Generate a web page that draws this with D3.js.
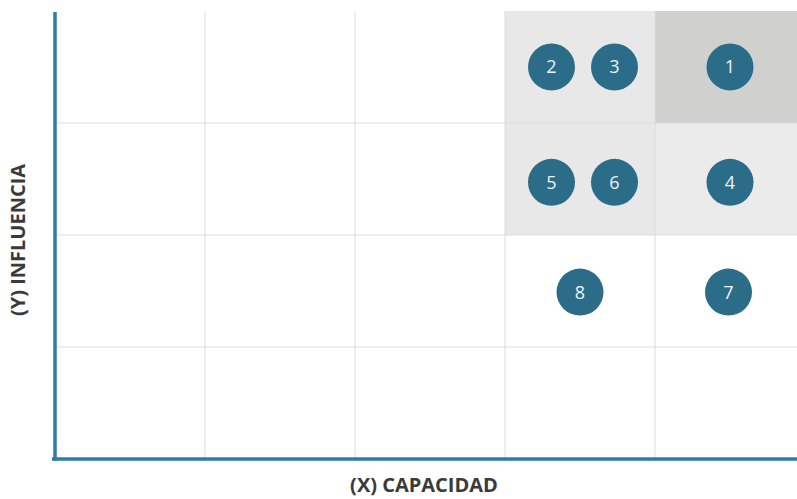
<!DOCTYPE html>
<html>
<head>
<meta charset="utf-8">
<script src="https://cdn.jsdelivr.net/npm/d3@7"></script>
<style>
  body { margin: 0; background: #fff; }
  #graf { width: 797px; height: 499px; }
</style>
</head>
<body>
<div id="graf"></div>
<script>
// I. Datos
puntos   = ['1', '2', '3', '4', '5', '6', '7', '8']
capacidad = [4.5, 3.31, 3.73, 4.5, 3.31, 3.73, 4.49, 3.5]
influencia = [3.5, 3.5, 3.5, 2.47, 2.47, 2.47, 1.49, 1.49]

// celdas sombreadas: columna, fila (desde abajo), tono
celdaCol  = [3, 4, 3, 4]
celdaFila = [3, 3, 2, 2]
celdaTono = ['#e8e8e8', '#d0d0cf', '#e8e8e8', '#ebebeb']

columnas = [0, 1, 2, 3, 4, 5]
filas    = [0, 1, 2, 3, 4]

// II. Configuración
ancho_total = 797
alto_total = 499
margins = { top: 11, left: 55, right: -8, bottom: 40 }
ancho = ancho_total - margins.left - margins.right
alto  = alto_total - margins.top - margins.bottom

svg = d3.select('#graf').append('svg')
        .attr('width', ancho_total)
        .attr('height', alto_total)

g = svg.append('g')
       .attr('transform', `translate(${ margins.left }, ${ margins.top })`)

x = d3.scaleLinear().domain([0, 5]).range([0, ancho])
y = d3.scaleLinear().domain([0, 4]).range([alto, 0])

// III. Celdas sombreadas
g.selectAll('rect.celda')
  .data(celdaCol.map((c, i) => ({ c: c, f: celdaFila[i], t: celdaTono[i] })))
  .enter()
  .append('rect')
    .attr('class', 'celda')
    .attr('x', d => x(d.c))
    .attr('y', d => y(d.f + 1))
    .attr('width', d => x(d.c + 1) - x(d.c))
    .attr('height', d => y(d.f) - y(d.f + 1))
    .attr('fill', d => d.t)

// Rejilla
g.selectAll('line.vert')
  .data(columnas.slice(1))
  .enter()
  .append('line')
    .attr('x1', d => x(d)).attr('x2', d => x(d))
    .attr('y1', y(4)).attr('y2', y(0))
    .attr('stroke', '#dcdcdc')
    .attr('stroke-width', 1)

g.selectAll('line.hor')
  .data(filas.slice(1, 4))
  .enter()
  .append('line')
    .attr('x1', x(0)).attr('x2', x(5))
    .attr('y1', d => y(d)).attr('y2', d => y(d))
    .attr('stroke', '#dcdcdc')
    .attr('stroke-width', 1)

// Ejes
g.append('line')
  .attr('x1', x(0)).attr('x2', x(0))
  .attr('y1', y(4) + 1).attr('y2', y(0) + 1.5)
  .attr('stroke', '#2f7aa8')
  .attr('stroke-width', 3.5)

g.append('line')
  .attr('x1', x(0) - 3).attr('x2', x(5))
  .attr('y1', y(0)).attr('y2', y(0))
  .attr('stroke', '#2f7aa8')
  .attr('stroke-width', 3.5)

// IV. Puntos
datos = puntos.map((p, i) => ({ p: p, cx: capacidad[i], cy: influencia[i] }))

nodos = g.selectAll('g.punto')
  .data(datos)
  .enter()
  .append('g')
    .attr('class', 'punto')
    .attr('transform', d => `translate(${ x(d.cx) }, ${ y(d.cy) })`)

nodos.append('circle')
  .attr('r', 23.5)
  .attr('fill', '#2b6c89')

nodos.append('text')
  .attr('text-anchor', 'middle')
  .attr('dy', '0.36em')
  .style('font-family', 'Open Sans, sans-serif')
  .style('font-size', '18px')
  .attr('fill', '#eef2f4')
  .text(d => d.p)

// Títulos
svg.append('text')
  .attr('x', 424)
  .attr('y', 492)
  .attr('text-anchor', 'middle')
  .style('font-family', 'Open Sans, sans-serif')
  .style('font-weight', 'bold')
  .style('font-size', '20px')
  .attr('fill', '#3a3a3a')
  .text('(X) CAPACIDAD')

svg.append('text')
  .attr('transform', 'translate(25, 240) rotate(-90)')
  .attr('text-anchor', 'middle')
  .style('font-family', 'Open Sans, sans-serif')
  .style('font-weight', 'bold')
  .style('font-size', '20px')
  .attr('fill', '#3a3a3a')
  .text('(Y) INFLUENCIA')
</script>
</body>
</html>
